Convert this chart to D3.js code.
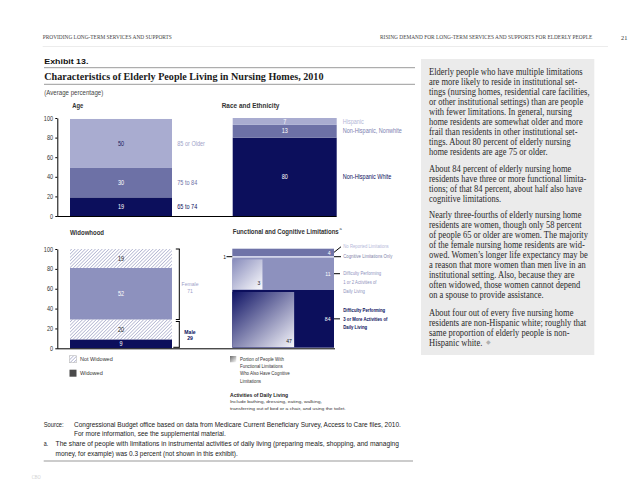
<!DOCTYPE html>
<html><head><meta charset="utf-8">
<script src="https://cdn.jsdelivr.net/npm/d3@7"></script>
<style>body{margin:0;background:#fff}svg{display:block}</style>
</head><body>
<svg id="c" width="638" height="493"></svg>
<script>
// ---------------- data ----------------
const tickValues = [0, 20, 40, 60, 80, 100];

const ageCategories = ["65 to 74", "75 to 84", "85 or Older"];
const ageValues = [19, 30, 50];

const raceCategories = ["Non-Hispanic White", "Non-Hispanic, Nonwhite", "Hispanic"];
const raceValues = [80, 13, 7];

const widowCategories = ["Widowed", "Not Widowed", "Widowed", "Not Widowed"];
const widowSex = ["Male", "Male", "Female", "Female"];
const widowValues = [9, 20, 52, 19];
const sexGroups = ["Male", "Female"];

const funcCategories = [
  ["Difficulty Performing", "3 or More Activities of", "Daily Living"],
  ["Difficulty Performing", "1 or 2 Activities of", "Daily Living"],
  ["Cognitive Limitations Only"],
  ["No Reported Limitations"]
];
const funcValues = [84, 11, 1, 4];
const funcCognitive = [47, 3, null, null];

const bodyParagraphs = [
  ["Elderly people who have multiple limitations",
   "are more likely to reside in institutional set-",
   "tings (nursing homes, residential care facilities,",
   "or other institutional settings) than are people",
   "with fewer limitations. In general, nursing",
   "home residents are somewhat older and more",
   "frail than residents in other institutional set-",
   "tings. About 80 percent of elderly nursing",
   "home residents are age 75 or older."],
  ["About 84 percent of elderly nursing home",
   "residents have three or more functional limita-",
   "tions; of that 84 percent, about half also have",
   "cognitive limitations."],
  ["Nearly three-fourths of elderly nursing home",
   "residents are women, though only 58 percent",
   "of people 65 or older are women. The majority",
   "of the female nursing home residents are wid-",
   "owed. Women\u2019s longer life expectancy may be",
   "a reason that more women than men live in an",
   "institutional setting. Also, because they are",
   "often widowed, those women cannot depend",
   "on a spouse to provide assistance."],
  ["About four out of every five nursing home",
   "residents are non-Hispanic white; roughly that",
   "same proportion of elderly people is non-",
   "Hispanic white."]
];

// ---------------- helpers ----------------
const svg = d3.select("#c");
const SANS = "Liberation Sans, Arial, sans-serif";
const SERIF = "Liberation Serif, Times New Roman, serif";
const NAVY = "#0c0f5c", MED = "#6d71a6", LIGHT = "#a9acd0", MID2 = "#8d91be";

function txt(parent, x, y, s, o = {}) {
  const sx = o.sx ?? 0.85;
  const t = parent.append("text")
    .attr("transform", `translate(${x},${y}) scale(${sx},1)`)
    .attr("font-family", o.family || SANS)
    .attr("font-size", o.size || 6.5)
    .attr("font-weight", o.weight || "normal")
    .attr("fill", o.fill || "#222")
    .attr("text-anchor", o.anchor || "start")
    .attr("dominant-baseline", "central")
    .text(s);
  if (o.width) {
    const w = t.node().getComputedTextLength();
    t.attr("transform", `translate(${x},${y}) scale(${o.width / w},1)`);
  }
  return t;
}
function segs(values) {
  const ends = Array.from(d3.cumsum(values));
  return values.map((v, i) => ({ v, i, y0: ends[i] - v, y1: ends[i] }));
}
function yAxis(scale, x) {
  const g = svg.append("g").attr("transform", `translate(${x},0)`)
    .call(d3.axisLeft(scale).tickValues(tickValues).tickSize(2).tickSizeOuter(0).tickPadding(3));
  g.select(".domain").attr("stroke", "#000");
  g.selectAll(".tick line").attr("stroke", "#000");
  g.selectAll(".tick text").attr("font-family", SANS).attr("font-size", 6.5)
    .attr("fill", "#333").attr("transform", "scale(0.85,1)");
}
function line(x1, y1, x2, y2, stroke = "#000", w = 1) {
  svg.append("line").attr("x1", x1).attr("y1", y1).attr("x2", x2).attr("y2", y2)
    .attr("stroke", stroke).attr("stroke-width", w);
}

// defs
const defs = svg.append("defs");
const pat = defs.append("pattern").attr("id", "hatch").attr("patternUnits", "userSpaceOnUse")
  .attr("width", 2.4).attr("height", 2.4).attr("patternTransform", "rotate(45)");
pat.append("rect").attr("width", 2.4).attr("height", 2.4).attr("fill", "#fff");
pat.append("line").attr("x1", 1.2).attr("y1", 0).attr("x2", 1.2).attr("y2", 2.4)
  .attr("stroke", "#b4b7d2").attr("stroke-width", 0.8);
function grad(id, c0, c1) {
  const g = defs.append("linearGradient").attr("id", id)
    .attr("x1", 0).attr("y1", 0).attr("x2", 1).attr("y2", 1);
  g.append("stop").attr("offset", 0).attr("stop-color", c0);
  g.append("stop").attr("offset", 1).attr("stop-color", c1);
}
grad("gNavy", "#0e1264", "#f6f6fb");
grad("gMid", "#878bbb", "#fbfbfd");
grad("gGrey", "#6a6a6a", "#ffffff");

// ---------------- page furniture ----------------
txt(svg, 42.7, 37.3, "PROVIDING LONG-TERM SERVICES AND SUPPORTS", { family: SERIF, size: 6, width: 129, fill: "#444" });
txt(svg, 380, 37.3, "RISING DEMAND FOR LONG-TERM SERVICES AND SUPPORTS FOR ELDERLY PEOPLE", { family: SERIF, size: 6, width: 212, fill: "#444" });
txt(svg, 621, 37.3, "21", { family: SERIF, size: 7, sx: 0.9, fill: "#333" });
line(42.7, 46.5, 608, 46.5, "#ececec", 1);

txt(svg, 44.3, 61, "Exhibit 13.", { size: 8, weight: "bold", width: 44, fill: "#111" });
line(44, 67.7, 415, 67.7, "#9a9a9a", 1);
txt(svg, 44.3, 76, "Characteristics of Elderly People Living in Nursing Homes, 2010", { family: SERIF, size: 11, weight: "bold", width: 279, fill: "#1a1a1a" });
line(44, 84.3, 415, 84.3, "#9a9a9a", 1);
txt(svg, 44.3, 92.3, "(Average percentage)", { size: 6.5, width: 59, fill: "#444" });

// ---------------- Age & Race ----------------
const yTop = d3.scaleLinear().domain([0, 100]).range([216, 118]);
const xAge = d3.scaleBand().domain(["Age"]).range([70, 172]);
const xRace = d3.scaleBand().domain(["Race"]).range([232.7, 336.7]);

txt(svg, 72.3, 105, "Age", { size: 6.5, weight: "bold", fill: "#333", sx: 0.9 });
txt(svg, 221.7, 105, "Race and Ethnicity", { size: 6.5, weight: "bold", fill: "#333", width: 57.6 });

const ageFill = [NAVY, MED, LIGHT], ageValFill = ["#fff", "#fff", "#1a1d5e"], ageLabFill = [NAVY, MED, "#a0a3c8"];
segs(ageValues).forEach(s => {
  svg.append("rect").attr("x", xAge("Age")).attr("width", xAge.bandwidth())
    .attr("y", yTop(s.y1)).attr("height", yTop(s.y0) - yTop(s.y1)).attr("fill", ageFill[s.i]);
  const cy = (yTop(s.y0) + yTop(s.y1)) / 2;
  txt(svg, xAge("Age") + xAge.bandwidth() / 2, cy, s.v, { anchor: "middle", fill: ageValFill[s.i], size: 6.5 });
  txt(svg, 177.3, cy, ageCategories[s.i], { fill: ageLabFill[s.i], size: 6.5 });
});

const raceFill = [NAVY, MED, LIGHT], raceLabFill = [NAVY, "#7d80b0", "#b3b6d6"];
segs(raceValues).forEach(s => {
  svg.append("rect").attr("x", xRace("Race")).attr("width", xRace.bandwidth())
    .attr("y", yTop(s.y1)).attr("height", yTop(s.y0) - yTop(s.y1)).attr("fill", raceFill[s.i]);
  const cy = (yTop(s.y0) + yTop(s.y1)) / 2;
  txt(svg, xRace("Race") + xRace.bandwidth() / 2, cy, s.v, { anchor: "middle", fill: "#fff", size: 6.5 });
});
// race labels placed next to their segments (top two stacked lines)
{
  const ss = segs(raceValues);
  const cy0 = (yTop(ss[0].y0) + yTop(ss[0].y1)) / 2;
  const cy1 = (yTop(ss[1].y0) + yTop(ss[1].y1)) / 2;
  const cy2 = (yTop(ss[2].y0) + yTop(ss[2].y1)) / 2;
  txt(svg, 342.7, cy0, raceCategories[0], { fill: raceLabFill[0], size: 6.5 });
  txt(svg, 342.7, cy1, raceCategories[1], { fill: raceLabFill[1], size: 6.5 });
  txt(svg, 342.7, cy2, raceCategories[2], { fill: raceLabFill[2], size: 6.5 });
}
yAxis(yTop, 57.3);
line(57.3, 216.5, 336.7, 216.5);

// ---------------- Widowhood ----------------
const yW = d3.scaleLinear().domain([0, 100]).range([348.3, 249]);
const xW = d3.scaleBand().domain(["Widowhood"]).range([70, 172]);
txt(svg, 70, 232.7, "Widowhood", { size: 6.5, weight: "bold", fill: "#333", width: 34 });
const wFill = ["#0c0f5c", "url(#hatch)", MID2, "url(#hatch)"];
const wValFill = ["#fff", "#222", "#fff", "#222"];
segs(widowValues).forEach(s => {
  svg.append("rect").attr("x", xW("Widowhood")).attr("width", xW.bandwidth())
    .attr("y", yW(s.y1)).attr("height", yW(s.y0) - yW(s.y1)).attr("fill", wFill[s.i]);
  const cy = (yW(s.y0) + yW(s.y1)) / 2;
  txt(svg, xW("Widowhood") + xW.bandwidth() / 2, cy, s.v, { anchor: "middle", fill: wValFill[s.i], size: 6.5 });
});
// brackets by sex
{
  const totals = sexGroups.map(g => d3.sum(widowValues.filter((v, i) => widowSex[i] === g)));
  const ends = Array.from(d3.cumsum(totals));
  totals.forEach((t, i) => {
    const lo = ends[i] - t, hi = ends[i];
    const yb = i === 0 ? yW(lo) - 1 : yW(lo);
    const yt = i === 0 ? yW(hi) + 2 : yW(hi);
    const bx = 179.3;
    line(bx, yt, bx, yb);
    line(bx - 3.5, yt, bx + 0.5, yt);
    line(bx - (i === 0 ? 6 : 3.5), yb, bx + 0.5, yb);
    const c = (yt + yb) / 2;
    const col = i === 0 ? NAVY : "#9ea1c9";
    const wt = i === 0 ? "bold" : "normal";
    txt(svg, 190, c + (i === 0 ? -2.6 : 0), sexGroups[i], { anchor: "middle", fill: col, size: 6, weight: wt });
    txt(svg, 190, c + (i === 0 ? 3.8 : 6.8), t, { anchor: "middle", fill: col, size: 6, weight: wt });
  });
}
yAxis(yW, 57.3);
line(57.3, 348.8, 335, 348.8);

// widowhood legend
svg.append("rect").attr("x", 69.5).attr("y", 355.7).attr("width", 7).attr("height", 7)
  .attr("fill", "url(#hatch)").attr("stroke", "#bbb").attr("stroke-width", 0.6);
txt(svg, 80, 359.2, "Not Widowed", { size: 6, fill: "#333", width: 32.7 });
svg.append("rect").attr("x", 69.5).attr("y", 369.7).attr("width", 7).attr("height", 7).attr("fill", "#4a4a4a");
txt(svg, 80, 373.2, "Widowed", { size: 6, fill: "#333", width: 22.7 });

// ---------------- Functional and Cognitive ----------------
const fEnds = [0, ...d3.cumsum(funcValues)];
const yF = d3.scaleLinear().domain(fEnds).range([347.7, 290, 257.4, 256, 248.7]);
const xF = d3.scaleLinear().domain([0, 1]).range([232.3, 334]);
const xShare = d3.scaleLinear().domain([0, 0.92]).range([0, 101.7]);
txt(svg, 232.7, 231.7, "Functional and Cognitive Limitations", { size: 6.5, weight: "bold", fill: "#333", width: 106 });
txt(svg, 339.5, 228.3, "a", { size: 4, fill: "#333", sx: 1 });

const fFill = [NAVY, MID2, "#d2d4ea", "#6f73a8"];
const fGrad = ["url(#gNavy)", "url(#gMid)"];
const fLabFill = [NAVY, "#8d90bd", "#7d80a8", "#b4b7d8"];
segs(funcValues).forEach(s => {
  const top = yF(s.y1), bot = yF(s.y0);
  svg.append("rect").attr("x", xF(0)).attr("width", xF(1) - xF(0))
    .attr("y", top).attr("height", bot - top).attr("fill", fFill[s.i]);
  const c = funcCognitive[s.i];
  if (c != null) {
    const w = xShare(c / s.v);
    svg.append("rect").attr("x", xF(0)).attr("width", w)
      .attr("y", top + 2).attr("height", bot - top - 2.5).attr("fill", fGrad[s.i]);
    txt(svg, xF(0) + w - 2.2, bot - 7, c, { anchor: "end", fill: "#222", size: 6 });
  }
  const cy = (top + bot) / 2;
  if (s.i === 2) {
    txt(svg, 226, cy, s.v, { anchor: "end", fill: "#111", size: 6 });
    line(226.5, cy, 232.3, cy);
    line(334, cy, 341, cy);
    txt(svg, 343.3, cy, funcCategories[s.i][0], { fill: fLabFill[s.i], size: 5, sx: 0.85 });
  } else {
    txt(svg, 330.5, cy, s.v, { anchor: "end", fill: "#fff", size: 6 });
    if (s.i === 3) {
      line(334, cy, 341, cy - 5.6);
      txt(svg, 343.3, cy - 5.6, funcCategories[s.i][0], { fill: fLabFill[s.i], size: 5, sx: 0.85 });
    } else {
      line(334, cy, 340, cy);
      const lines = funcCategories[s.i];
      const start = s.i === 0 ? cy - 8.8 : cy;
      lines.forEach((l, k) => txt(svg, 343.3, start + k * 8.9, l,
        { fill: fLabFill[s.i], size: 5, sx: 0.85, weight: s.i === 0 ? "bold" : "normal" }));
    }
  }
});

// functional legend
svg.append("rect").attr("x", 230).attr("y", 356).attr("width", 6.3).attr("height", 6.3).attr("fill", "url(#gGrey)");
["Portion of People With", "Functional Limitations", "Who Also Have Cognitive", "Limitations"]
  .forEach((l, k) => txt(svg, 240, 359 + k * 7.3, l, { size: 5.2, fill: "#333", sx: 0.85 }));
txt(svg, 230, 395, "Activities of Daily Living", { size: 5.3, fill: "#222", weight: "bold", width: 58 });
txt(svg, 230, 401.7, "Include bathing, dressing, eating, walking,", { size: 4.3, fill: "#333", width: 92 });
txt(svg, 230, 409, "transferring out of bed or a chair, and using the toilet.", { size: 4.3, fill: "#333", width: 116 });

// ---------------- notes ----------------
txt(svg, 43.7, 424.3, "Source:", { size: 6.8, fill: "#222", width: 20 });
txt(svg, 74, 424.3, "Congressional Budget office based on data from Medicare Current Beneficiary Survey, Access to Care files, 2010.", { size: 6.8, fill: "#222", width: 327 });
txt(svg, 74, 433.7, "For more information, see the supplemental material.", { size: 6.8, fill: "#222", width: 152 });
txt(svg, 43.7, 443.7, "a.", { size: 6.8, fill: "#222", width: 4.5 });
txt(svg, 55.6, 443.7, "The share of people with limitations in instrumental activities of daily living (preparing meals, shopping, and managing", { size: 6.8, fill: "#222", width: 343.4 });
txt(svg, 55.6, 453, "money, for example) was 0.3 percent (not shown in this exhibit).", { size: 6.8, fill: "#222", width: 182 });
line(43.7, 461, 413, 461, "#999", 1.2);
txt(svg, 31.7, 476.7, "CBO", { family: SERIF, size: 7, fill: "#cfcfcf", width: 9 });

// ---------------- side box ----------------
svg.append("rect").attr("x", 421).attr("y", 59).attr("width", 173.3).attr("height", 296).attr("fill", "#ebebeb");
{
  const starts = [71.7, 168.3, 215, 312.3];
  const probe = svg.append("text").attr("font-family", SERIF).attr("font-size", 10).text(bodyParagraphs[0][0]);
  const k = 153.7 / probe.node().getComputedTextLength();
  probe.remove();
  bodyParagraphs.forEach((p, pi) => p.forEach((l, li) => {
    const t = txt(svg, 429, starts[pi] + li * 10, l, { family: SERIF, size: 10, sx: k, fill: "#2a2a2a" });
    if (pi === 3 && li === p.length - 1) {
      const w = t.node().getComputedTextLength() * k;
      txt(svg, 429 + w + 3.5, starts[pi] + li * 10, "\u25C6", { size: 6, fill: "#b0b0b0", sx: 1 });
    }
  }));
}
</script>
</body></html>
